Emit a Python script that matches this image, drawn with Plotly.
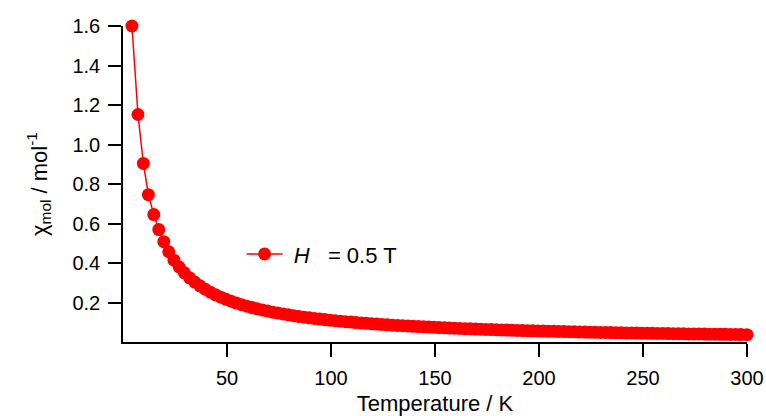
import plotly.graph_objects as go

temperature_K = [4.3, 7.2, 9.8, 12.2, 14.8, 17.2, 19.6, 22.0,
    24.5, 27, 29.5, 32, 34.5, 37, 39.5, 42, 44.5, 47, 49.5, 52, 54.5, 57, 59.5,
    62, 64.5, 67, 69.5, 72, 74.5, 77, 79.5, 82, 84.5, 87, 89.5, 92, 94.5, 97, 99.5,
    102, 104.5, 107, 109.5, 112, 114.5, 117, 119.5, 122, 124.5, 127, 129.5, 132, 134.5,
    137, 139.5, 142, 144.5, 147, 149.5, 152, 154.5, 157, 159.5, 162, 164.5, 167, 169.5,
    172, 174.5, 177, 179.5, 182, 184.5, 187, 189.5, 192, 194.5, 197, 199.5, 202, 204.5,
    207, 209.5, 212, 214.5, 217, 219.5, 222, 224.5, 227, 229.5, 232, 234.5, 237, 239.5,
    242, 244.5, 247, 249.5, 252, 254.5, 257, 259.5, 262, 264.5, 267, 269.5, 272, 274.5,
    277, 279.5, 282, 284.5, 287, 289.5, 292, 294.5, 297, 300]

chi_mol = [1.600, 1.152, 0.904, 0.746, 0.645, 0.569, 0.508, 0.457,
    0.4145, 0.3797, 0.3503, 0.3251, 0.3033, 0.2842, 0.2674, 0.2525, 0.2391, 0.2271, 0.2162,
    0.2064, 0.1973, 0.1891, 0.1815, 0.1745, 0.1680, 0.1620, 0.1564, 0.1511, 0.1463, 0.1417,
    0.1374, 0.1333, 0.1295, 0.1259, 0.1225, 0.1192, 0.1162, 0.1133, 0.1105, 0.1079, 0.1054,
    0.1030, 0.1007, 0.0985, 0.0964, 0.0944, 0.0924, 0.0906, 0.0888, 0.0871, 0.0854, 0.0839,
    0.0823, 0.0809, 0.0794, 0.0781, 0.0767, 0.0755, 0.0742, 0.0730, 0.0719, 0.0707, 0.0696,
    0.0686, 0.0676, 0.0666, 0.0656, 0.0647, 0.0637, 0.0629, 0.0620, 0.0612, 0.0603, 0.0595,
    0.0588, 0.0580, 0.0573, 0.0566, 0.0559, 0.0552, 0.0545, 0.0539, 0.0532, 0.0526, 0.0520,
    0.0514, 0.0508, 0.0503, 0.0497, 0.0492, 0.0487, 0.0481, 0.0476, 0.0471, 0.0466, 0.0462,
    0.0457, 0.0452, 0.0448, 0.0444, 0.0439, 0.0435, 0.0431, 0.0427, 0.0423, 0.0419, 0.0415,
    0.0411, 0.0408, 0.0404, 0.0400, 0.0397, 0.0393, 0.0390, 0.0387, 0.0383, 0.0380, 0.0377,
    0.0373]

x_ticks = [50, 100, 150, 200, 250, 300]
y_ticks = [0.2, 0.4, 0.6, 0.8, 1.0, 1.2, 1.4, 1.6]
y_tick_labels = ["0.2", "0.4", "0.6", "0.8", "1.0", "1.2", "1.4", "1.6"]

series_name = " <i>H</i>   = 0.5 T"

fig = go.Figure()
fig.add_trace(go.Scatter(
    x=temperature_K, y=chi_mol, mode="lines+markers", name=series_name,
    line=dict(color="#FF0000", width=1.5),
    marker=dict(color="#FF0000", size=13),
    cliponaxis=False,
))

fam = "Liberation Sans, Arial, sans-serif"
tick_font = dict(family=fam, size=20, color="#000000")
title_font = dict(family=fam, size=22, color="#000000")
legend_font = dict(family=fam, size=22, color="#000000")
fig.update_layout(
    width=766, height=416,
    margin=dict(l=123, r=19, t=26, b=74),
    paper_bgcolor="white", plot_bgcolor="white",
    font=tick_font,
    showlegend=True,
    legend=dict(x=0.19, y=0.278, xanchor="left", yanchor="middle", itemwidth=36,
                bgcolor="rgba(0,0,0,0)", font=legend_font),
    xaxis=dict(range=[0, 300], tickvals=x_ticks, ticks="outside", ticklen=13,
               tickwidth=1.5, tickcolor="black", showline=True, linecolor="black",
               linewidth=1.5, showgrid=False, zeroline=False, automargin=False,
               tickfont=tick_font, ticklabelstandoff=4,
               title=dict(text="Temperature / K", font=title_font, standoff=13)),
    yaxis=dict(range=[0, 1.6], tickvals=y_ticks, ticktext=y_tick_labels,
               ticks="outside", ticklen=13, tickwidth=1.5, tickcolor="black",
               showline=True, linecolor="black", linewidth=1.5, showgrid=False,
               zeroline=False, automargin=False, tickfont=tick_font,
               ticklabelstandoff=4,
               title=dict(text="χ<sub>mol</sub> / mol<sup>-1</sup>", font=title_font,
                          standoff=19)),
)

fig.write_html("out.html")
